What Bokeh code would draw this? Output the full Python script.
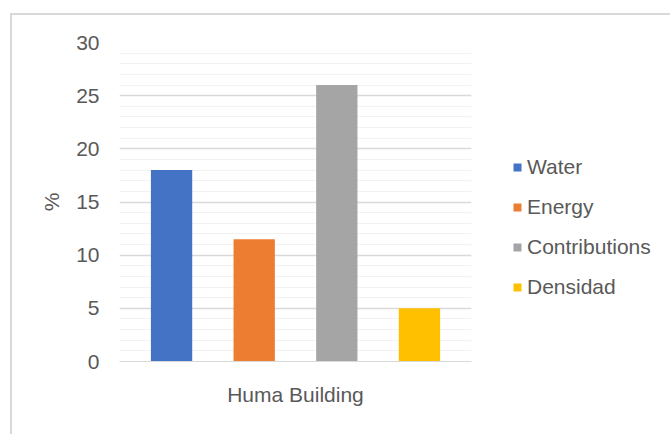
from bokeh.plotting import figure
from bokeh.models import (FactorRange, Range1d, Legend, LegendItem,
                          SingleIntervalTicker, ColumnDataSource)
from bokeh.embed import file_html
from bokeh.resources import INLINE

group_label = "Huma Building"
series = ["Water", "Energy", "Contributions", "Densidad"]
values = [18, 11.5, 26, 5]
colors = ["#4472C4", "#ED7D31", "#A5A5A5", "#FFC000"]
y_axis_title = "%"

FONT = "Liberation Sans"
TXT = "#595959"

src = ColumnDataSource(dict(series=series, value=values, color=colors))

p = figure(
    x_range=FactorRange(factors=series, range_padding=0.065),
    y_range=Range1d(0, 30),
    frame_width=352, frame_height=319,
    min_border_left=107, min_border_top=27, min_border_bottom=73, min_border_right=199,
    output_backend="svg", toolbar_location=None,
)
p.styles = {"margin-left": "10px", "margin-top": "13px",
            "border-left": "2px solid #d9d9d9", "border-top": "2px solid #d9d9d9"}
p.outline_line_color = None
p.background_fill_color = "white"
p.border_fill_color = "white"

r = p.vbar(x="series", top="value", width=0.5, source=src,
           fill_color="color", line_color=None)

# y axis
p.yaxis.ticker = SingleIntervalTicker(interval=5, num_minor_ticks=5)
p.yaxis.axis_line_color = None
p.yaxis.major_tick_line_color = None
p.yaxis.minor_tick_line_color = None
p.yaxis.major_label_text_font = FONT
p.yaxis.major_label_text_font_size = "21px"
p.yaxis.major_label_text_color = TXT
p.yaxis.major_label_standoff = 14
p.yaxis.axis_label = y_axis_title
p.yaxis.axis_label_text_font = FONT
p.yaxis.axis_label_text_font_size = "21px"
p.yaxis.axis_label_text_font_style = "normal"
p.yaxis.axis_label_text_color = TXT
p.yaxis.axis_label_standoff = 10

# x axis
p.xaxis.axis_line_color = "#d9d9d9"
p.xaxis.axis_line_width = 1
p.xaxis.major_tick_line_color = None
p.xaxis.minor_tick_line_color = None
p.xaxis.major_label_text_font_size = "0px"
p.xaxis.major_label_text_color = None
p.xaxis.major_label_standoff = 0
p.xaxis.axis_label = group_label
p.xaxis.axis_label_text_font = FONT
p.xaxis.axis_label_text_font_size = "21px"
p.xaxis.axis_label_text_font_style = "normal"
p.xaxis.axis_label_text_color = TXT
p.xaxis.axis_label_standoff = 15

# grids
p.xgrid.grid_line_color = None
p.ygrid.grid_line_color = "#d9d9d9"
p.ygrid.grid_line_width = 1.3
p.ygrid.minor_grid_line_color = "#f2f2f2"

items = [LegendItem(label=s, renderers=[r], index=i) for i, s in enumerate(series)]
legend = Legend(items=items, location=(41, 62), orientation="vertical",
                glyph_width=10, glyph_height=10, label_standoff=5,
                label_height=20, spacing=16, padding=0, margin=0,
                label_text_font=FONT, label_text_font_size="21px",
                label_text_color=TXT, border_line_color=None,
                background_fill_alpha=0)
p.add_layout(legend, "right")

open("out.html", "w").write(file_html(p, INLINE))
